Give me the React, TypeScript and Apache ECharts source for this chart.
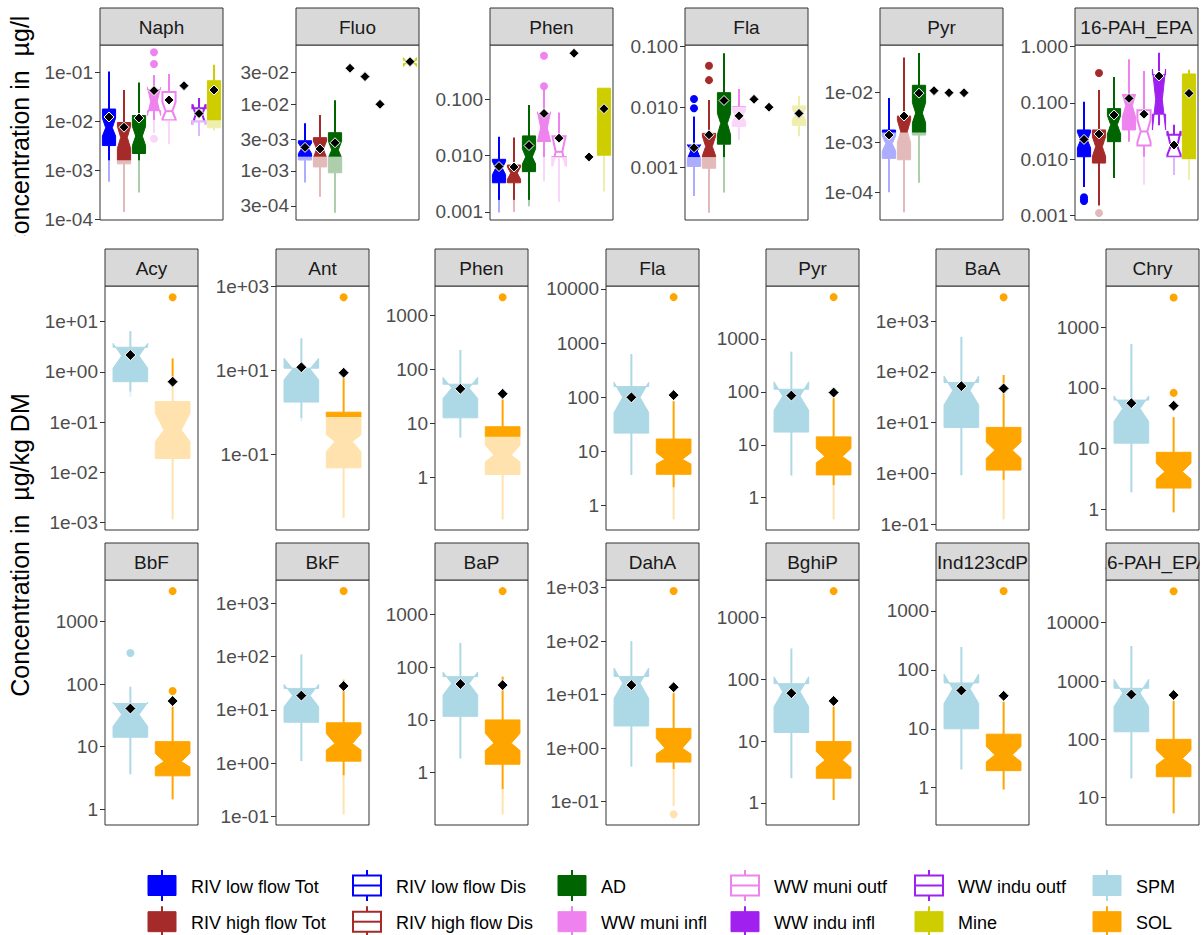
import React, { useEffect, useRef } from "react";
import * as echarts from "echarts";

const FONT = '"Liberation Sans", Arial, Helvetica, sans-serif';

// ---------- categories ----------
const WATER_GROUPS = ["RIV low flow Tot", "RIV high flow Tot", "AD", "WW muni infl", "WW muni outf", "WW indu infl", "WW indu outf", "Mine"];
const WATER_COLORS = ["#0000FF", "#A52A2A", "#006400", "#EE82EE", "#EE82EE", "#A020F0", "#A020F0", "#CDCD00"];
const WATER_FILLED = [true, true, true, true, false, true, false, true];

const SED_GROUPS = ["SPM", "SOL"];
const SED_COLORS = ["#ADD8E6", "#FFA500"];
const SED_FILLED = [true, true];

// ---------- data ----------
// columns: [category, whiskerLow, q1, notchLow, median, notchHigh, q3, whiskerHigh, mean, LOQ]
const naphStats = [
  [0, 5.8e-4, 3.2e-3, 5.0e-3, 7.4e-3, 1.17e-2, 1.79e-2, 1.05e-1, 1.23e-2, 1.6e-3],
  [1, 1.4e-4, 1.35e-3, 2.8e-3, 4.7e-3, 7.9e-3, 9.5e-3, 4.4e-2, 7.6e-3, 1.6e-3],
  [2, 3.5e-4, 2.2e-3, 3.2e-3, 5.0e-3, 7.9e-3, 1.32e-2, 6.3e-2, 1.17e-2, 1.6e-3],
  [3, 5.8e-3, 1.66e-2, 1.32e-2, 2.57e-2, 5.0e-2, 4.47e-2, 8.9e-2, 4.27e-2, 1.07e-2],
  [4, 3.4e-3, 1.05e-2, 1.12e-2, 1.62e-2, 2.5e-2, 3.98e-2, 9.3e-2, 2.75e-2, 1.05e-2],
  [5, null, null, null, null, null, null, null, 5.4e-2, null],
  [6, 5.0e-3, 1.0e-2, 8.5e-3, 1.38e-2, 2.24e-2, 1.86e-2, 3.0e-2, 1.45e-2, 1.05e-2],
  [7, 6.5e-3, 7.4e-3, null, 2.8e-2, null, 6.8e-2, 1.45e-1, 4.4e-2, 1.05e-2],
];
const naphOutliers = [[3, 0.26], [3, 0.15], [3, 4.4e-3]];

const fluoStats = [
  [0, 6.7e-4, 1.46e-3, 1.82e-3, 2.19e-3, 2.63e-3, 2.84e-3, 5.2e-3, 2.26e-3, 1.64e-3],
  [1, 4.1e-4, 1.15e-3, 1.58e-3, 2.14e-3, 2.8e-3, 3.16e-3, 6.9e-3, 2.14e-3, 1.64e-3],
  [2, 2.37e-4, 9.4e-4, 1.58e-3, 2.07e-3, 2.8e-3, 3.75e-3, 1.15e-2, 2.65e-3, 1.64e-3],
  [3, null, null, null, null, null, null, null, 3.47e-2, null],
  [4, null, null, null, null, null, null, null, 2.6e-2, null],
  [5, null, null, null, null, null, null, null, 1.0e-2, null],
  [7, 3.9e-2, 4.07e-2, 3.7e-2, 4.3e-2, 5.0e-2, 4.57e-2, 4.8e-2, 4.36e-2, null],
];
const fluoOutliers: number[][] = [];

const phenWStats = [
  [0, 9.8e-4, 3.3e-3, 4.6e-3, 6.0e-3, 7.9e-3, 8.6e-3, 2.17e-2, 6.4e-3, 1.64e-3],
  [1, 1.0e-3, 3.3e-3, 3.8e-3, 4.9e-3, 6.3e-3, 6.8e-3, 2.1e-2, 6.3e-3, 1.64e-3],
  [2, 1.26e-3, 5.2e-3, 7.1e-3, 9.5e-3, 1.32e-2, 2.24e-2, 7.9e-2, 1.51e-2, 1.64e-3],
  [3, 3.5e-3, 1.78e-2, 1.78e-2, 3.1e-2, 6.0e-2, 5.6e-2, 1.57e-1, 5.6e-2, 9.5e-3],
  [4, 1.5e-3, 9.5e-3, 6.4e-3, 1.17e-2, 2.2e-2, 2.2e-2, 5.8e-2, 2.04e-2, 9.5e-3],
  [5, null, null, null, null, null, null, null, 6.55e-1, null],
  [6, null, null, null, null, null, null, null, 9.5e-3, null],
  [7, 2.3e-3, 1.0e-2, null, 3.5e-2, null, 1.57e-1, 1.57e-1, 6.8e-2, 1.0e-2],
];
const phenWOutliers = [[3, 0.59], [3, 0.17]];

const flaWStats = [
  [0, 3.4e-4, 1.05e-3, 1.41e-3, 1.9e-3, 2.4e-3, 2.37e-3, 7.0e-3, 2.14e-3, 1.5e-3],
  [1, 1.8e-4, 9.8e-4, 1.58e-3, 2.24e-3, 3.3e-3, 3.7e-3, 1.32e-2, 3.5e-3, 1.5e-3],
  [2, 3.9e-4, 2.45e-3, 3.5e-3, 5.4e-3, 7.9e-3, 1.74e-2, 7.8e-2, 1.29e-2, 1.5e-3],
  [3, 2.9e-3, 4.8e-3, 5.8e-3, 7.1e-3, 8.9e-3, 1.02e-2, 2.0e-2, 7.2e-3, 1.02e-2],
  [4, null, null, null, null, null, null, null, 1.35e-2, null],
  [5, null, null, null, null, null, null, null, 1.0e-2, null],
  [7, 3.3e-3, 5.0e-3, 6.3e-3, 7.6e-3, 9.3e-3, 1.05e-2, 1.5e-2, 7.9e-3, 1.5e-2],
];
const flaWOutliers = [[0, 1.37e-2], [0, 9.6e-3], [1, 4.85e-2], [1, 2.8e-2]];

const pyrWStats = [
  [0, 1.0e-4, 4.8e-4, 6.8e-4, 9.5e-4, 1.35e-3, 1.78e-3, 7.8e-3, 1.41e-3, 1.58e-3],
  [1, 4.0e-5, 4.5e-4, 1.0e-3, 1.66e-3, 2.8e-3, 3.4e-3, 5.1e-2, 3.4e-3, 1.58e-3],
  [2, 1.55e-4, 1.41e-3, 2.5e-3, 3.9e-3, 6.3e-3, 1.41e-2, 6.3e-2, 9.8e-3, 1.58e-3],
  [3, null, null, null, null, null, null, null, 1.1e-2, null],
  [4, null, null, null, null, null, null, null, 1.0e-2, null],
  [5, null, null, null, null, null, null, null, 1.0e-2, null],
];
const pyrWOutliers: number[][] = [];

const pah16WStats = [
  [0, 3.2e-3, 1.1e-2, 1.58e-2, 2.2e-2, 3.0e-2, 3.3e-2, 1.05e-1, 2.24e-2, null],
  [1, 1.5e-3, 8.5e-3, 1.12e-2, 1.66e-2, 2.5e-2, 3.3e-2, 1.7e-1, 2.8e-2, 1.41e-3],
  [2, 4.6e-3, 2.04e-2, 2.8e-2, 4.1e-2, 5.9e-2, 7.9e-2, 2.9e-1, 6.1e-2, null],
  [3, 2.04e-2, 3.3e-2, 5.6e-2, 8.9e-2, 1.41e-1, 1.41e-1, 6.0e-1, 1.2e-1, null],
  [4, 3.5e-3, 1.74e-2, 2.0e-2, 3.1e-2, 5.0e-2, 7.4e-2, 3.7e-1, 6.3e-2, 1.1e-2],
  [5, 4.0e-2, 6.3e-2, 3.3e-2, 1.15e-1, 4.0e-1, 3.16e-1, 7.8e-1, 3.0e-1, null],
  [6, 5.2e-3, 1.1e-2, 1.2e-2, 1.7e-2, 3.16e-2, 2.7e-2, 4.1e-2, 1.78e-2, 1.1e-2],
  [7, 4.3e-3, 1.0e-2, null, 5.0e-2, null, 3.27e-1, 3.9e-1, 1.48e-1, 1.0e-2],
];
const pah16WOutliers = [[0, 2.1e-3], [0, 1.9e-3], [0, 1.8e-3], [1, 3.4e-1], [1, 1.1e-3]];

const acyStats = [
  [0, 0.32, 0.64, 1.18, 2.09, 3.7, 3.1, 6.5, 2.17, 0.41],
  [1, 1.17e-3, 1.9e-2, 4.1e-2, 7.0e-2, 0.151, 0.257, 1.86, 0.64, 0.51],
];
const acyOutliers = [[1, 30.6]];
const antStats = [
  [0, 0.62, 1.78, 6.0, 11.0, 19.7, 11.4, 59, 12.0, 0.74],
  [1, 3.1e-3, 4.8e-2, 0.117, 0.204, 0.295, 1.02, 7.2, 8.9, 0.78],
];
const antOutliers = [[1, 560]];
const phenSStats = [
  [0, 5.5, 12.7, 28.8, 45, 71, 53, 226, 43.6, null],
  [1, 0.17, 1.15, 1.96, 2.61, 3.98, 8.7, 27.8, 35.3, 5.7],
];
const phenSOutliers = [[1, 2120]];
const flaSStats = [
  [0, 3.7, 21.9, 52.5, 100, 190, 158, 630, 100, null],
  [1, 0.56, 3.8, 5.9, 7.2, 9.5, 17, 85, 110, 2.19],
];
const flaSOutliers = [[1, 7080]];
const pyrSStats = [
  [0, 2.63, 17.4, 44.7, 83, 155, 112, 575, 85, null],
  [1, 0.39, 2.7, 4.6, 6.0, 8.5, 14.1, 76, 97, 1.74],
];
const pyrSOutliers = [[1, 6170]];
const baaStats = [
  [0, 0.93, 8.1, 22.4, 43, 83, 62, 490, 52.5, null],
  [1, 0.126, 1.17, 2.0, 2.88, 4.17, 8.1, 87, 47.3, 0.76],
];
const baaOutliers = [[1, 2950]];
const chryStats = [
  [0, 1.9, 12.3, 27.9, 45.7, 74, 63, 530, 56, null],
  [1, 0.89, 2.24, 3.16, 4.17, 5.75, 8.7, 33, 51, null],
];
const chryOutliers = [[1, 3090], [1, 83]];
const bbfStats = [
  [0, 3.6, 14.1, 20.9, 32.7, 51, 49, 91, 40.7, null],
  [1, 1.43, 3.4, 4.7, 5.75, 7.8, 12.0, 43.6, 53.7, null],
];
const bbfOutliers = [[0, 316], [1, 3090], [1, 77.6]];
const bkfStats = [
  [0, 1.1, 5.9, 11.5, 18.6, 30.2, 25.4, 110, 18.6, null],
  [1, 0.11, 1.1, 1.78, 2.34, 3.63, 5.75, 37, 28.2, 0.6],
];
const bkfOutliers = [[1, 1700]];
const bapStats = [
  [0, 1.86, 11.7, 29.5, 49, 81, 66, 288, 47.9, null],
  [1, 0.162, 1.45, 2.63, 3.63, 5.6, 10, 66, 45.7, 0.49],
];
const bapOutliers = [[1, 2750]];
const dahaStats = [
  [0, 0.45, 2.6, 8.5, 16.4, 31.6, 21.9, 100, 15.1, null],
  [1, 8.3e-2, 0.55, 0.78, 1.0, 1.53, 2.34, 10.7, 13.8, 0.41],
];
const dahaOutliers = [[1, 870], [1, 5.8e-2]];
const bghipStats = [
  [0, 2.5, 13.8, 36, 63, 110, 85, 316, 59.6, null],
  [1, 1.11, 2.5, 3.76, 4.9, 6.8, 9.8, 36.3, 44.7, null],
];
const bghipOutliers = [[1, 2690]];
const indStats = [
  [0, 2.04, 10, 26.9, 47.9, 85, 60, 245, 44.7, null],
  [1, 0.93, 1.95, 2.75, 3.6, 5.0, 8.1, 28.8, 36.3, null],
];
const indOutliers = [[1, 2190]];
const pah16SStats = [
  [0, 21.4, 135, 363, 624, 1070, 750, 3980, 589, null],
  [1, 5.4, 22.9, 36.3, 46.8, 66, 100, 457, 575, null],
];
const pah16SOutliers = [[1, 34700]];

// ---------- tick labels ----------
const naphTicks = ["1e-04", "1e-03", "1e-02", "1e-01"];
const fluoTicks = ["3e-04", "1e-03", "3e-03", "1e-02", "3e-02"];
const phenWTicks = ["0.001", "0.010", "0.100"];
const flaWTicks = ["0.001", "0.010", "0.100"];
const pyrWTicks = ["1e-04", "1e-03", "1e-02"];
const pah16WTicks = ["0.001", "0.010", "0.100", "1.000"];
const acyTicks = ["1e-03", "1e-02", "1e-01", "1e+00", "1e+01"];
const antTicks = ["1e-01", "1e+01", "1e+03"];
const dec4Ticks = ["1", "10", "100", "1000"];
const dec5Ticks = ["1", "10", "100", "1000", "10000"];
const expTicks = ["1e-01", "1e+00", "1e+01", "1e+02", "1e+03"];
const pah16STicks = ["10", "100", "1000", "10000"];

// ---------- panel definitions (data references + log10 axis limits) ----------
type Row = (number | null)[];
interface Panel { title: string; stats: Row[]; outliers: number[][]; ticks: string[]; yLog: [number, number]; }

const topPanels: Panel[] = [
  { title: "Naph", stats: naphStats, outliers: naphOutliers, ticks: naphTicks, yLog: [-4.02, -0.435] },
  { title: "Fluo", stats: fluoStats, outliers: fluoOutliers, ticks: fluoTicks, yLog: [-3.735, -1.111] },
  { title: "Phen", stats: phenWStats, outliers: phenWOutliers, ticks: phenWTicks, yLog: [-3.142, -0.037] },
  { title: "Fla", stats: flaWStats, outliers: flaWOutliers, ticks: flaWTicks, yLog: [-3.864, -0.972] },
  { title: "Pyr", stats: pyrWStats, outliers: pyrWOutliers, ticks: pyrWTicks, yLog: [-4.556, -1.042] },
  { title: "16-PAH_EPA", stats: pah16WStats, outliers: pah16WOutliers, ticks: pah16WTicks, yLog: [-3.084, 0.03] },
];
const midPanels: Panel[] = [
  { title: "Acy", stats: acyStats, outliers: acyOutliers, ticks: acyTicks, yLog: [-3.145, 1.71] },
  { title: "Ant", stats: antStats, outliers: antOutliers, ticks: antTicks, yLog: [-2.8, 3.017] },
  { title: "Phen", stats: phenSStats, outliers: phenSOutliers, ticks: dec4Ticks, yLog: [-0.964, 3.535] },
  { title: "Fla", stats: flaSStats, outliers: flaSOutliers, ticks: dec5Ticks, yLog: [-0.448, 4.055] },
  { title: "Pyr", stats: pyrSStats, outliers: pyrSOutliers, ticks: dec4Ticks, yLog: [-0.61, 4.0] },
  { title: "BaA", stats: baaStats, outliers: baaOutliers, ticks: expTicks, yLog: [-1.11, 3.69] },
  { title: "Chry", stats: chryStats, outliers: chryOutliers, ticks: dec4Ticks, yLog: [-0.341, 3.68] },
];
const botPanels: Panel[] = [
  { title: "BbF", stats: bbfStats, outliers: bbfOutliers, ticks: dec4Ticks, yLog: [-0.256, 3.668] },
  { title: "BkF", stats: bkfStats, outliers: bkfOutliers, ticks: expTicks, yLog: [-1.156, 3.437] },
  { title: "BaP", stats: bapStats, outliers: bapOutliers, ticks: dec4Ticks, yLog: [-0.99, 3.65] },
  { title: "DahA", stats: dahaStats, outliers: dahaOutliers, ticks: expTicks, yLog: [-1.436, 3.144] },
  { title: "BghiP", stats: bghipStats, outliers: bghipOutliers, ticks: dec4Ticks, yLog: [-0.36, 3.61] },
  { title: "Ind123cdP", stats: indStats, outliers: indOutliers, ticks: dec4Ticks, yLog: [-0.633, 3.526] },
  { title: "16-PAH_EPA", stats: pah16SStats, outliers: pah16SOutliers, ticks: pah16STicks, yLog: [0.532, 4.732] },
];

// ---------- legend ----------
const LEGEND_NAMES = ["RIV low flow Tot", "RIV high flow Tot", "RIV low flow Dis", "RIV high flow Dis", "AD", "WW muni infl", "WW muni outf", "WW indu infl", "WW indu outf", "Mine", "SPM", "SOL"];
const LEGEND_COLORS = ["#0000FF", "#A52A2A", "#0000FF", "#A52A2A", "#006400", "#EE82EE", "#EE82EE", "#A020F0", "#A020F0", "#CDCD00", "#ADD8E6", "#FFA500"];
const LEGEND_FILLED = [true, true, false, false, true, true, false, true, false, true, true, true];

// ---------- layout ----------
const TOP_LEFTS = [100, 296, 490, 685, 880, 1075];
const MID_LEFTS = [105, 276, 435, 606, 766, 936, 1106];
const ROWS = [
  { top: 45, height: 175, stripTop: 8, width: 123, lefts: TOP_LEFTS, hw: 0.44, mean: 10 },
  { top: 286, height: 244, stripTop: 249, width: 93, lefts: MID_LEFTS, hw: 0.41, mean: 11 },
  { top: 580, height: 245, stripTop: 543, width: 93, lefts: MID_LEFTS, hw: 0.41, mean: 11 },
];
const LEG_KEY_X = [147, 352, 557, 730, 914, 1092];
const LEG_ROW_Y = [885.5, 921.7];

const lg = (v: number) => Math.log10(v);

function makeBoxRender(rows: Row[], colors: string[], filled: boolean[], hw: number) {
  return (params: any, api: any) => {
    const r = rows[params.dataIndex] as any[];
    const cat = r[0] as number;
    const x = cat + 1;
    const c = (xx: number, v: number) => api.coord([xx, lg(v)]);
    const color = colors[cat];
    const isF = filled[cat];
    const [lo, q1, nlo, med, nhi, q3, hi] = r.slice(1, 8);
    const xl = x - hw, xr = x + hw, nw = hw * 0.5;
    const notched = nlo != null && nhi != null;
    const pts = notched
      ? [c(xl, q3), c(xl, nhi), c(xl + nw, med), c(xl, nlo), c(xl, q1), c(xr, q1), c(xr, nlo), c(xr - nw, med), c(xr, nhi), c(xr, q3)]
      : [c(xl, q3), c(xl, q1), c(xr, q1), c(xr, q3)];
    const children: any[] = [];
    const a = c(x, q3), b = c(x, hi), d = c(x, q1), e = c(x, lo);
    children.push({ type: "line", shape: { x1: a[0], y1: a[1], x2: b[0], y2: b[1] }, style: { stroke: color, lineWidth: 2 } });
    children.push({ type: "line", shape: { x1: d[0], y1: d[1], x2: e[0], y2: e[1] }, style: { stroke: color, lineWidth: 2 } });
    children.push({ type: "polygon", shape: { points: pts }, style: { fill: isF ? color : "#FFFFFF", stroke: color, lineWidth: isF ? 1 : 2, lineJoin: "miter" } });
    if (!isF) {
      const m1 = c(notched ? xl + nw : xl, med), m2 = c(notched ? xr - nw : xr, med);
      children.push({ type: "line", shape: { x1: m1[0], y1: m1[1], x2: m2[0], y2: m2[1] }, style: { stroke: color, lineWidth: 2 } });
    }
    return { type: "group", children };
  };
}

function makeOverlayRender(rows: Row[], hw: number) {
  return (params: any, api: any) => {
    const r = rows[params.dataIndex] as any[];
    const x = r[0] + 1;
    const a = api.coord([x - hw - 0.06, lg(r[9])]);
    const b = api.coord([x + hw + 0.06, lg(r[9])]);
    const cs = params.coordSys;
    const bottom = cs.y + cs.height - 1;
    return {
      type: "rect",
      shape: { x: a[0], y: a[1], width: b[0] - a[0], height: Math.max(0, bottom - a[1]) },
      style: { fill: "rgba(255,255,255,0.68)" },
    };
  };
}

function buildOption() {
  const grid: any[] = [], xAxis: any[] = [], yAxis: any[] = [], series: any[] = [], graphic: any[] = [];
  const rowsPanels = [topPanels, midPanels, botPanels];
  let gi = 0;
  rowsPanels.forEach((panels, ri) => {
    const R = ROWS[ri];
    const colors = ri === 0 ? WATER_COLORS : SED_COLORS;
    const filled = ri === 0 ? WATER_FILLED : SED_FILLED;
    const n = ri === 0 ? WATER_GROUPS.length : SED_GROUPS.length;
    panels.forEach((p, pi) => {
      const left = R.lefts[pi];
      grid.push({ left, top: R.top, width: R.width, height: R.height, show: true, borderColor: "#333333", borderWidth: 1, backgroundColor: "#FFFFFF" });
      xAxis.push({ type: "value", gridIndex: gi, min: 0.4, max: n + 0.6, show: false });
      const tv = p.ticks.map((t) => lg(parseFloat(t)));
      const ticks = p.ticks;
      yAxis.push({
        type: "value", gridIndex: gi, min: p.yLog[0], max: p.yLog[1],
        axisLine: { show: false }, splitLine: { show: false },
        axisTick: { show: true, length: 5, lineStyle: { color: "#333333", width: 1 }, customValues: tv },
        axisLabel: {
          show: true, customValues: tv, margin: 7, color: "#4D4D4D", fontSize: 19, fontFamily: FONT,
          formatter: (v: number) => {
            let best = 0;
            tv.forEach((t, k) => { if (Math.abs(t - v) < Math.abs(tv[best] - v)) best = k; });
            return ticks[best];
          },
        },
      });
      const boxRows = p.stats.filter((r) => r[2] != null);
      const loqRows = p.stats.filter((r) => r[2] != null && r[9] != null);
      series.push({
        type: "custom", xAxisIndex: gi, yAxisIndex: gi, clip: true, z: 2, silent: true,
        renderItem: makeBoxRender(boxRows, colors, filled, R.hw),
        data: boxRows.map((r) => [(r[0] as number) + 1, lg(r[2] as number), lg(r[6] as number)]),
      });
      series.push({
        type: "scatter", xAxisIndex: gi, yAxisIndex: gi, z: 3, silent: true, symbol: "circle", symbolSize: 8,
        data: p.outliers.map((o) => ({ value: [o[0] + 1, lg(o[1])], itemStyle: { color: colors[o[0]], opacity: 1 } })),
      });
      series.push({
        type: "custom", xAxisIndex: gi, yAxisIndex: gi, clip: true, z: 4, silent: true,
        renderItem: makeOverlayRender(loqRows, R.hw),
        data: loqRows.map((r) => [(r[0] as number) + 1, lg(r[9] as number)]),
      });
      series.push({
        type: "scatter", xAxisIndex: gi, yAxisIndex: gi, z: 5, silent: true, symbol: "diamond", symbolSize: R.mean,
        itemStyle: { color: "#000000", borderColor: "#FFFFFF", borderWidth: 1, opacity: 1 },
        data: p.stats.filter((r) => r[8] != null).map((r) => [(r[0] as number) + 1, lg(r[8] as number)]),
      });
      // strip
      const sh = R.top - R.stripTop;
      graphic.push({ type: "rect", shape: { x: left, y: R.stripTop, width: R.width, height: sh }, style: { fill: "#D9D9D9" } });
      graphic.push({
        type: "text", x: left + R.width / 2, y: R.stripTop + sh / 2 + 1,
        style: { text: p.title, fontSize: 19, fontFamily: FONT, fill: "#1A1A1A", textAlign: "center", textVerticalAlign: "middle" },
      });
      graphic.push({ type: "rect", shape: { x: left - 16, y: R.stripTop - 1, width: 15.5, height: sh + 1 }, style: { fill: "#FFFFFF" } });
      graphic.push({ type: "rect", shape: { x: left + R.width + 0.5, y: R.stripTop - 1, width: 15.5, height: sh + 1 }, style: { fill: "#FFFFFF" } });
      graphic.push({ type: "rect", shape: { x: left, y: R.stripTop, width: R.width, height: sh }, style: { fill: "none", stroke: "#333333", lineWidth: 1 } });
      gi++;
    });
  });

  // y-axis titles
  graphic.push({
    type: "text", x: 20, y: 134, rotation: Math.PI / 2,
    style: { text: "Concentration in  µg/l", fontSize: 25, fontFamily: FONT, fill: "#000000", textAlign: "center", textVerticalAlign: "middle" },
  });
  graphic.push({ type: "rect", shape: { x: 0, y: 236, width: 40, height: 40 }, style: { fill: "#FFFFFF" } });
  graphic.push({
    type: "text", x: 20, y: 545, rotation: Math.PI / 2,
    style: { text: "Concentration in  µg/kg DM", fontSize: 25, fontFamily: FONT, fill: "#000000", textAlign: "center", textVerticalAlign: "middle" },
  });

  // legend
  LEGEND_NAMES.forEach((name, i) => {
    const col = Math.floor(i / 2), row = i % 2;
    const kx = LEG_KEY_X[col], cy = LEG_ROW_Y[row];
    const color = LEGEND_COLORS[i];
    const isF = LEGEND_FILLED[i];
    graphic.push({ type: "line", shape: { x1: kx + 15, y1: cy - 15.5, x2: kx + 15, y2: cy + 15.5 }, style: { stroke: color, lineWidth: 2 } });
    graphic.push({
      type: "rect", shape: { x: kx + 1, y: cy - 10, width: 28, height: 20 },
      style: { fill: isF ? color : "#FFFFFF", stroke: color, lineWidth: isF ? 1 : 2 },
    });
    if (!isF) {
      graphic.push({ type: "line", shape: { x1: kx + 1, y1: cy, x2: kx + 29, y2: cy }, style: { stroke: color, lineWidth: 2 } });
    }
    graphic.push({
      type: "text", x: kx + 44, y: cy + 1,
      style: { text: name, fontSize: 18, fontFamily: FONT, fill: "#000000", textAlign: "left", textVerticalAlign: "middle" },
    });
  });

  return { animation: false, backgroundColor: "#FFFFFF", grid, xAxis, yAxis, series, graphic };
}

export default function App() {
  const ref = useRef<HTMLDivElement>(null);
  useEffect(() => {
    if (!ref.current) return;
    const chart = echarts.init(ref.current, null, { renderer: "svg" });
    chart.setOption(buildOption() as any);
    return () => chart.dispose();
  }, []);
  return <div ref={ref} style={{ position: "absolute", left: 0, top: 0, width: 1202, height: 935 }} />;
}
